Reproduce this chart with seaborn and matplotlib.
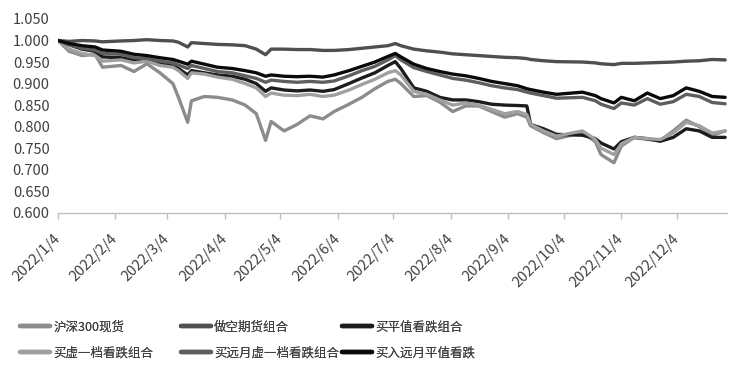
import matplotlib
matplotlib.use("Agg")
import matplotlib.pyplot as plt
import matplotlib.dates as mdates
import matplotlib.transforms as mtransforms
from matplotlib.lines import Line2D
import seaborn as sns
import pandas as pd

sns.set_theme(style="white")
plt.rcParams['font.family'] = ['Noto Sans CJK SC', 'DejaVu Sans']

dates = ["2022-01-04", "2022-01-10", "2022-01-17", "2022-01-24", "2022-01-28", "2022-02-07",
         "2022-02-14", "2022-02-21", "2022-02-28", "2022-03-07", "2022-03-10", "2022-03-15",
         "2022-03-17", "2022-03-24", "2022-03-31", "2022-04-08", "2022-04-15", "2022-04-21",
         "2022-04-26", "2022-04-29", "2022-05-06", "2022-05-13", "2022-05-20", "2022-05-27",
         "2022-06-02", "2022-06-10", "2022-06-17", "2022-06-24", "2022-07-01", "2022-07-05",
         "2022-07-08", "2022-07-15", "2022-07-22", "2022-07-29", "2022-08-05", "2022-08-12",
         "2022-08-19", "2022-08-26", "2022-09-02", "2022-09-09", "2022-09-14", "2022-09-16",
         "2022-09-23", "2022-09-30", "2022-10-14", "2022-10-21", "2022-10-24", "2022-10-31",
         "2022-11-04", "2022-11-11", "2022-11-18", "2022-11-25", "2022-12-02", "2022-12-09",
         "2022-12-16", "2022-12-23", "2022-12-30"]

hs300 = [1.000, 0.975, 0.965, 0.968, 0.938, 0.942, 0.928, 0.946, 0.925, 0.900, 0.868, 0.810,
         0.860, 0.870, 0.868, 0.862, 0.850, 0.830, 0.768, 0.812, 0.790, 0.805, 0.825, 0.818,
         0.835, 0.852, 0.868, 0.888, 0.905, 0.910, 0.900, 0.870, 0.872, 0.857, 0.835, 0.848,
         0.848, 0.835, 0.822, 0.830, 0.822, 0.802, 0.786, 0.772, 0.786, 0.765, 0.735, 0.716,
         0.755, 0.775, 0.770, 0.768, 0.790, 0.815, 0.800, 0.780, 0.790]

short_fut = [1.000, 0.998, 1.000, 0.999, 0.997, 0.999, 1.000, 1.002, 1.000, 0.999, 0.996, 0.985,
             0.995, 0.993, 0.991, 0.990, 0.988, 0.980, 0.967, 0.980, 0.980, 0.979, 0.979, 0.977,
             0.977, 0.979, 0.982, 0.985, 0.988, 0.993, 0.988, 0.980, 0.976, 0.973, 0.969, 0.967,
             0.965, 0.963, 0.961, 0.960, 0.958, 0.956, 0.953, 0.951, 0.950, 0.948, 0.946, 0.944,
             0.947, 0.947, 0.948, 0.949, 0.950, 0.952, 0.953, 0.956, 0.955]

atm_put = [1.000, 0.990, 0.980, 0.975, 0.962, 0.960, 0.955, 0.955, 0.948, 0.942, 0.935, 0.920,
           0.930, 0.925, 0.920, 0.917, 0.910, 0.900, 0.882, 0.890, 0.885, 0.883, 0.885, 0.882,
           0.886, 0.900, 0.913, 0.925, 0.942, 0.951, 0.935, 0.890, 0.882, 0.868, 0.862, 0.862,
           0.858, 0.852, 0.850, 0.849, 0.848, 0.805, 0.795, 0.782, 0.780, 0.772, 0.762, 0.748,
           0.765, 0.775, 0.772, 0.766, 0.775, 0.795, 0.790, 0.775, 0.775]

otm_put = [1.000, 0.980, 0.970, 0.965, 0.952, 0.955, 0.948, 0.952, 0.942, 0.938, 0.930, 0.912,
           0.925, 0.922, 0.915, 0.910, 0.900, 0.890, 0.870, 0.878, 0.873, 0.872, 0.875, 0.870,
           0.873, 0.885, 0.898, 0.910, 0.925, 0.930, 0.920, 0.882, 0.875, 0.862, 0.850, 0.855,
           0.850, 0.840, 0.830, 0.835, 0.828, 0.805, 0.790, 0.778, 0.790, 0.770, 0.750, 0.735,
           0.760, 0.775, 0.772, 0.770, 0.785, 0.810, 0.802, 0.785, 0.790]

far_otm_put = [1.000, 0.990, 0.982, 0.978, 0.970, 0.968, 0.960, 0.958, 0.952, 0.948, 0.943, 0.935,
               0.942, 0.935, 0.928, 0.925, 0.918, 0.912, 0.903, 0.908, 0.905, 0.903, 0.905, 0.903,
               0.906, 0.918, 0.930, 0.940, 0.955, 0.965, 0.955, 0.937, 0.928, 0.920, 0.912, 0.908,
               0.902, 0.895, 0.890, 0.886, 0.880, 0.878, 0.872, 0.866, 0.868, 0.860, 0.852, 0.842,
               0.855, 0.850, 0.865, 0.852, 0.858, 0.875, 0.870, 0.856, 0.853]

far_atm_put = [1.000, 0.993, 0.988, 0.985, 0.978, 0.975, 0.968, 0.965, 0.960, 0.956, 0.952, 0.945,
               0.952, 0.945, 0.938, 0.935, 0.930, 0.925, 0.917, 0.920, 0.917, 0.916, 0.917, 0.915,
               0.920, 0.930, 0.940, 0.950, 0.963, 0.970, 0.962, 0.945, 0.935, 0.928, 0.922, 0.918,
               0.912, 0.905, 0.900, 0.895, 0.888, 0.886, 0.880, 0.875, 0.880, 0.872, 0.865, 0.855,
               0.868, 0.860, 0.878, 0.865, 0.872, 0.890, 0.882, 0.870, 0.868]

names = ["沪深300现货", "做空期货组合", "买平值看跌组合",
         "买虚一档看跌组合", "买远月虚一档看跌组合", "买入远月平值看跌"]
series = [hs300, short_fut, atm_put, otm_put, far_otm_put, far_atm_put]
colors = ["#8c8c8c", "#4f4f4f", "#1c1c1c", "#a0a0a0", "#5e5e5e", "#0a0a0a"]

tick_labels = ["2022/1/4", "2022/2/4", "2022/3/4", "2022/4/4", "2022/5/4", "2022/6/4",
               "2022/7/4", "2022/8/4", "2022/9/4", "2022/10/4", "2022/11/4", "2022/12/4"]
y_ticks = [0.600, 0.650, 0.700, 0.750, 0.800, 0.850, 0.900, 0.950, 1.000, 1.050]

frames = []
for n, s in zip(names, series):
    frames.append(pd.DataFrame({"date": pd.to_datetime(dates), "value": s, "series": n}))
df = pd.concat(frames, ignore_index=True)

fig = plt.figure(figsize=(7.41, 3.79), dpi=100)
ax = fig.add_axes([58 / 741, 1 - 212.7 / 379, (727 - 58) / 741, (212.7 - 19) / 379])

sns.lineplot(data=df, x="date", y="value", hue="series", hue_order=names,
             palette=dict(zip(names, colors)), linewidth=2.4, legend=False, ax=ax)

ax.set_xlim(pd.Timestamp("2022-01-04"), pd.Timestamp("2022-12-31"))
ax.set_ylim(0.6, 1.05)
ax.set_yticks(y_ticks)
ax.set_yticklabels([f"{v:.3f}" for v in y_ticks], fontsize=10.5, color="#404040")
tick_pos = [mdates.date2num(pd.to_datetime(t, format="%Y/%m/%d")) for t in tick_labels]
ax.set_xticks(tick_pos)
ax.set_xticklabels(tick_labels, rotation=45, ha="right", va="center",
                   rotation_mode="anchor", fontsize=10.5, color="#404040")
offset = mtransforms.ScaledTranslation(6 / 100, 0, fig.dpi_scale_trans)
for lab in ax.get_xticklabels():
    lab.set_transform(lab.get_transform() + offset)
ax.set_xlabel("")
ax.set_ylabel("")
for sp in ["top", "right", "left"]:
    ax.spines[sp].set_visible(False)
ax.spines["bottom"].set_color("#bfbfbf")
ax.spines["bottom"].set_linewidth(1.0)
ax.tick_params(axis="x", which="major", direction="out", length=4, width=1.0,
               color="#bfbfbf", pad=13, bottom=True)
ax.tick_params(axis="y", length=0, pad=6)
ax.grid(False)

col_x = [20, 181, 342]
for c in range(3):
    idx = [c, c + 3]
    handles = [Line2D([0], [0], color=colors[i], lw=3.2) for i in idx]
    labels = [names[i] for i in idx]
    leg = fig.legend(handles, labels, ncol=1, loc="center left",
                     bbox_to_anchor=(col_x[c] / 741, 1 - 340 / 379), frameon=False,
                     fontsize=9, handlelength=2.4, handletextpad=0.25,
                     labelspacing=1.0, borderpad=0.0, borderaxespad=0.0,
                     labelcolor="#404040")
    fig.add_artist(leg)

fig.savefig("out.png", dpi=100)
